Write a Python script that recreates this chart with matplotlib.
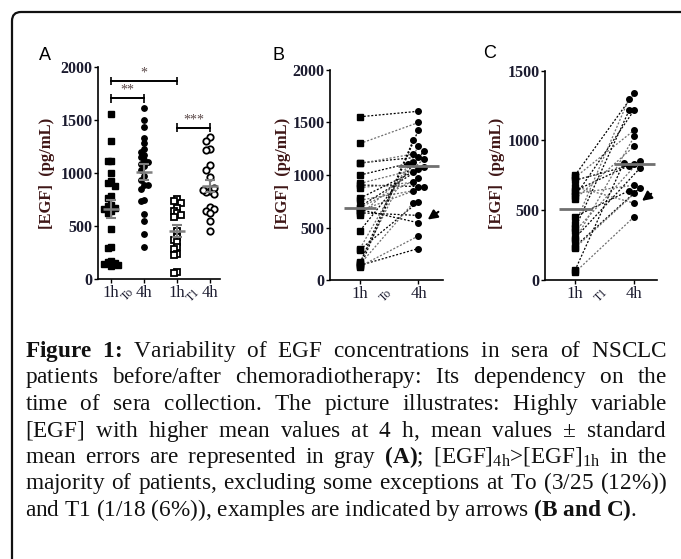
import numpy as np
import matplotlib.pyplot as plt
from matplotlib.patches import FancyBboxPatch
from matplotlib.transforms import IdentityTransform, blended_transform_factory

# ---- data ----
# To: 25 patients, sera at 1 h and 4 h (same order = same patient)
to_1h = [1555, 1300, 1115, 1110, 1000, 920, 905, 880, 780, 760, 700, 690, 670,
         660, 640, 620, 470, 300, 290, 170, 160, 150, 140, 130, 120]
to_4h = [1607, 1500, 1170, 1200, 1120, 1060, 890, 930, 1030, 850, 1080, 970, 545,
         885, 615, 1150, 1225, 1100, 745, 1280, 1330, 735, 300, 420, 1430]
# T1: 18 patients
t1_1h = [750, 735, 715, 670, 640, 620, 600, 580, 455, 400, 370, 350, 300, 285,
         240, 230, 70, 55]
t1_4h = [1340, 1075, 830, 550, 820, 680, 1220, 960, 640, 1300, 1215, 855, 800,
         1030, 660, 620, 840, 455]

# mean +- SEM in gray (panel A), means in B and C
a_mean = [660, 1005, 452, 879]
a_sem = [85, 75, 58, 55]
b_mean = [683, 1086]
c_mean = [509, 829]

sig_pairs = [(1, 3), (1, 2), (3, 4)]
sig_y = [1865, 1702, 1425]
sig_txt = ['*', '**', '***']

xlabels_a = ['1h', '4h', '1h', '4h']
xlabels_bc = ['1h', '4h']

# caption, one list of words per printed line
caption = [
    [r'$\mathbf{Figure}$', r'$\mathbf{1}\hspace{-0.2}\mathbf{:}\hspace{-0.2}$',
     'Variability', 'of', 'EGF', 'concentrations', 'in', 'sera', 'of', 'NSCLC'],
    'patients before/after chemoradiotherapy: Its dependency on the'.split(),
    'time of sera collection. The picture illustrates: Highly variable'.split(),
    '[EGF] with higher mean values at 4 h, mean values ± standard'.split(),
    ['mean', 'errors', 'are', 'represented', 'in', 'gray', r'$\mathbf{(A)}$;',
     r'[EGF]$_{\mathrm{4h}}$>[EGF]$_{\mathrm{1h}}$', 'in', 'the'],
    'majority of patients, excluding some exceptions at To (3/25 (12%))'.split(),
    ['and', 'T1', '(1/18', '(6%)),', 'examples', 'are', 'indicated', 'by', 'arrows',
     r'$\mathbf{(B}$', r'$\mathbf{and}$', r'$\mathbf{C)}$.'],
]

plt.rcParams['font.family'] = ['Liberation Serif', 'DejaVu Serif']
plt.rcParams['mathtext.fontset'] = 'custom'
plt.rcParams['mathtext.rm'] = 'Liberation Serif'
plt.rcParams['mathtext.bf'] = 'Liberation Serif:bold'
plt.rcParams['mathtext.it'] = 'Liberation Serif:italic'

W, H = 681, 559
fig = plt.figure(figsize=(W / 100, H / 100), dpi=100)

# rounded frame, open to the right and bottom
fig.patches.append(FancyBboxPatch((0.12, -0.6), 7.5, (H - 12) / 100 + 0.6,
                                  boxstyle="round,pad=0,rounding_size=0.09",
                                  transform=fig.dpi_scale_trans, fill=False,
                                  lw=1.6, ec='#111111'))

tick_col = '#1b1b2f'
lab_col = '#3f1717'


def px_axes(left, top, right, bottom):
    return fig.add_axes([left / W, 1 - bottom / H, (right - left) / W, (bottom - top) / H])


def style(ax, ymax, step):
    for s in ['top', 'right']:
        ax.spines[s].set_visible(False)
    for s in ['left', 'bottom']:
        ax.spines[s].set_linewidth(1.2)
    ax.set_ylim(0, ymax)
    ax.set_yticks(np.arange(0, ymax + 1, step))
    ax.tick_params(axis='y', length=3, width=1, labelsize=11.5, pad=1, labelcolor=tick_col)
    ax.tick_params(axis='x', length=3, width=1, labelsize=12, pad=1.5, labelcolor=tick_col)
    for t in ax.get_yticklabels():
        t.set_fontweight('bold')


def swarm(vals, step=0.11, ythr=48):
    offs, placed = [], []
    for v in vals:
        o = 0
        for k in [0, -1, 1, -2, 2]:
            o = k * step
            if all(abs(o - po) > step * 0.9 or abs(v - pv) > ythr for po, pv in placed):
                break
        placed.append((o, v))
        offs.append(o)
    return np.array(offs)


# ---- panel A ----
axA = px_axes(98, 66.7, 220, 279)
style(axA, 2000, 500)
axA.set_xlim(0.6, 4.3)
axA.set_xticks([1, 2, 3, 4])
axA.set_xticklabels(xlabels_a)

groups = [to_1h, to_4h, t1_1h, t1_4h]
marks = [dict(marker='s', ms=4.6, mfc='black', mec='black'),
         dict(marker='o', ms=3.9, mfc='black', mec='black'),
         dict(marker='s', ms=5.0, mfc='white', mec='black', mew=1.3),
         dict(marker='o', ms=4.6, mfc='white', mec='black', mew=1.3)]
for i, (vals, mk) in enumerate(zip(groups, marks)):
    x = i + 1 + swarm(vals)
    axA.plot(x, vals, ls='none', zorder=3, **mk)
    axA.hlines(a_mean[i], i + 1 - 0.24, i + 1 + 0.24, color='#7f7f7f', lw=1.8, zorder=4)
    axA.errorbar(i + 1, a_mean[i], yerr=a_sem[i], fmt='none', ecolor='#7f7f7f',
                 elinewidth=1.5, capsize=3.5, capthick=1.5, zorder=4)

for (x0, x1), y, s in zip(sig_pairs, sig_y, sig_txt):
    axA.plot([x0, x1], [y, y], color='black', lw=1.4, clip_on=False)
    axA.vlines([x0, x1], y - 40, y + 40, color='black', lw=1.2, clip_on=False)
    axA.text((x0 + x1) / 2, y + 15, s, ha='center', va='bottom', fontsize=10,
             color='#5a4848', clip_on=False)

trA = blended_transform_factory(axA.transData, axA.transAxes)
axA.text(1.5, -0.075, 'To', transform=trA, rotation=45, ha='center', va='center',
         fontsize=8.5, color=tick_col)
axA.text(3.5, -0.075, 'T1', transform=trA, rotation=45, ha='center', va='center',
         fontsize=8.5, color=tick_col)


# ---- panels B and C ----
def paired(ax, v1, v4, mean, ymax, step, grp, arrow, ythr):
    style(ax, ymax, step)
    ax.set_xticks([1, 2])
    ax.set_xticklabels(xlabels_bc)
    x4 = 2 + swarm(v4, step=0.09, ythr=ythr)
    for k, (a, b) in enumerate(zip(v1, v4)):
        ax.plot([1, x4[k]], [a, b], color='black' if k % 2 == 0 else '#6e6e6e',
                lw=0.9, ls=(0, (1.6, 1.4)), zorder=2)
    ax.plot(np.ones(len(v1)), v1, 's', color='black', ms=4.6, zorder=3)
    ax.plot(x4, v4, 'o', color='black', ms=4.0, zorder=3)
    ax.hlines(mean[0], 0.73, 1.28, color='#707070', lw=2, zorder=4)
    ax.hlines(mean[1], 1.65, 2.35, color='#707070', lw=2, zorder=4)
    ax.annotate('', xy=arrow[0], xytext=arrow[1],
                arrowprops=dict(arrowstyle='-|>', color='black', lw=1.5,
                                mutation_scale=14), annotation_clip=False)
    tr = blended_transform_factory(ax.transData, ax.transAxes)
    ax.text(1.45, -0.075, grp, transform=tr, rotation=45, ha='center', va='center',
            fontsize=8.5, color=tick_col)


axB = px_axes(330, 70, 443, 280)
axB.set_xlim(0.485, 2.42)
paired(axB, to_1h, to_4h, b_mean, 2000, 500, 'To', ((2.12, 560), (2.38, 665)), 55)

axC = px_axes(545, 70.7, 657, 280)
axC.set_xlim(0.494, 2.38)
paired(axC, t1_1h, t1_4h, c_mean, 1500, 500, 'T1', ((2.09, 555), (2.32, 630)), 42)

# panel letters and y labels
for lx, ly, letter in [(45, 55, 'A'), (278, 55, 'B'), (490, 53, 'C')]:
    fig.text(lx / W, 1 - ly / H, letter, ha='center', va='center', fontsize=13,
             family='Liberation Sans')
for lx in [47, 283, 497]:
    fig.text(lx / W, 1 - 173 / H, '[EGF]  (pg/mL)', rotation=90, ha='center',
             va='center', fontsize=12, fontweight='bold', color=lab_col)

# ---- caption, justified (each line is one text object) ----
renderer = fig.canvas.get_renderer()
left, right = 25, 667
base0, lead = 357, 26.5


def text_w(s, fs):
    t = fig.text(0, 0, s, fontsize=fs, transform=IdentityTransform())
    w = t.get_window_extent(renderer).width
    t.remove()
    return w


def line_str(words, g):
    return (r'$\hspace{%.4f}$' % g).join(words)


def hunit(fs):
    return (text_w(r'x$\hspace{20}$x', fs) - text_w(r'x$\hspace{0}$x', fs)) / 20


# fit the font size so the last (unjustified) line has its natural width
fs0 = 15.0
u0 = hunit(fs0)
nat = text_w(line_str(caption[-1], 0.25 * fs0 * 100 / 72 / u0), fs0)
fs = fs0 * (639 - left) / nat
unit = hunit(fs)

for li, words in enumerate(caption):
    if li < len(caption) - 1:
        w0 = text_w(line_str(words, 0), fs)
        g = (right - left - w0) / (len(words) - 1) / unit
    else:
        g = 0.25 * fs * 100 / 72 / unit
    fig.text(left, H - (base0 + li * lead), line_str(words, g), fontsize=fs,
             transform=IdentityTransform(), ha='left', va='baseline', color='#111111')

fig.savefig('out.png', dpi=100)
